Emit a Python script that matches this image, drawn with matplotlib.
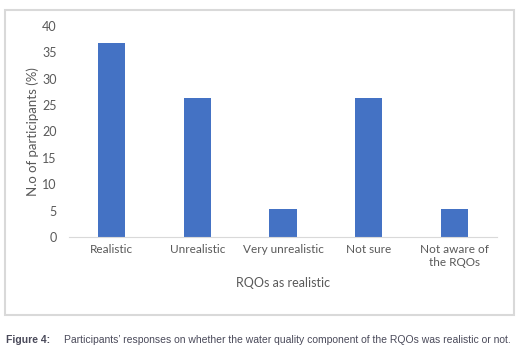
import matplotlib
matplotlib.use('Agg')
import matplotlib.pyplot as plt
from matplotlib.patches import Rectangle
from matplotlib import font_manager

# ── DATA ──────────────────────────────────────────────────────────────
categories = ["Realistic", "Unrealistic", "Very unrealistic", "Not sure",
              "Not aware of\nthe RQOs"]
percent = [36.8, 26.3, 5.3, 26.3, 5.3]
y_ticks = [0, 5, 10, 15, 20, 25, 30, 35, 40]

BAR_COLOR = '#4472C4'
TEXT_GRAY = '#595959'

plt.rcParams['font.family'] = ['Lato', 'DejaVu Sans']

fig = plt.figure(figsize=(5.23, 3.53), dpi=100)
fig.patch.set_facecolor('white')

# chart frame
fig.patches.append(Rectangle((5 / 523, 38 / 353), 509 / 523, 305 / 353,
                             transform=fig.transFigure, fill=False,
                             edgecolor='#d9d9d9', linewidth=1.5))

ax = fig.add_axes([69 / 523, 116 / 353, 428 / 523, 211 / 353])
x = range(len(categories))
ax.bar(x, percent, width=0.32, color=BAR_COLOR)

ax.set_xlim(-0.5, len(categories) - 0.5)
ax.set_ylim(0, 40)
ax.set_yticks(y_ticks)
ax.set_xticks(list(x))
ax.set_xticklabels(categories, fontsize=8.5, color=TEXT_GRAY,
                   linespacing=1.25)
ax.tick_params(axis='y', labelsize=9, labelcolor=TEXT_GRAY, length=0, pad=9)
ax.tick_params(axis='x', length=0, pad=5)

for side in ['top', 'right', 'left']:
    ax.spines[side].set_visible(False)
ax.spines['bottom'].set_color('#d9d9d9')

ax.set_ylabel("N.o of participants (%)", fontsize=9.5, color=TEXT_GRAY,
              labelpad=2)
ax.set_xlabel("RQOs as realistic", fontsize=9, color=TEXT_GRAY, labelpad=6)

# caption: condensed face if present, otherwise plain sans at smaller size
names = {f.name for f in font_manager.fontManager.ttflist}
if 'Liberation Sans Narrow' in names:
    cap_font, cap_size = ['Liberation Sans Narrow', 'DejaVu Sans'], 7.8
else:
    cap_font, cap_size = ['Liberation Sans', 'DejaVu Sans'], 7.5
fig.text(6 / 523, 13 / 353, "Figure 4:", fontsize=cap_size, fontweight='bold',
         color='#4a4a5a', family=cap_font, va='center')
fig.text(64 / 523, 13 / 353,
         "Participants\u2019 responses on whether the water quality component "
         "of the RQOs was realistic or not.",
         fontsize=cap_size, color='#4a4a5a', family=cap_font, va='center')

fig.savefig('out.png', dpi=100, facecolor='white')
plt.close(fig)
